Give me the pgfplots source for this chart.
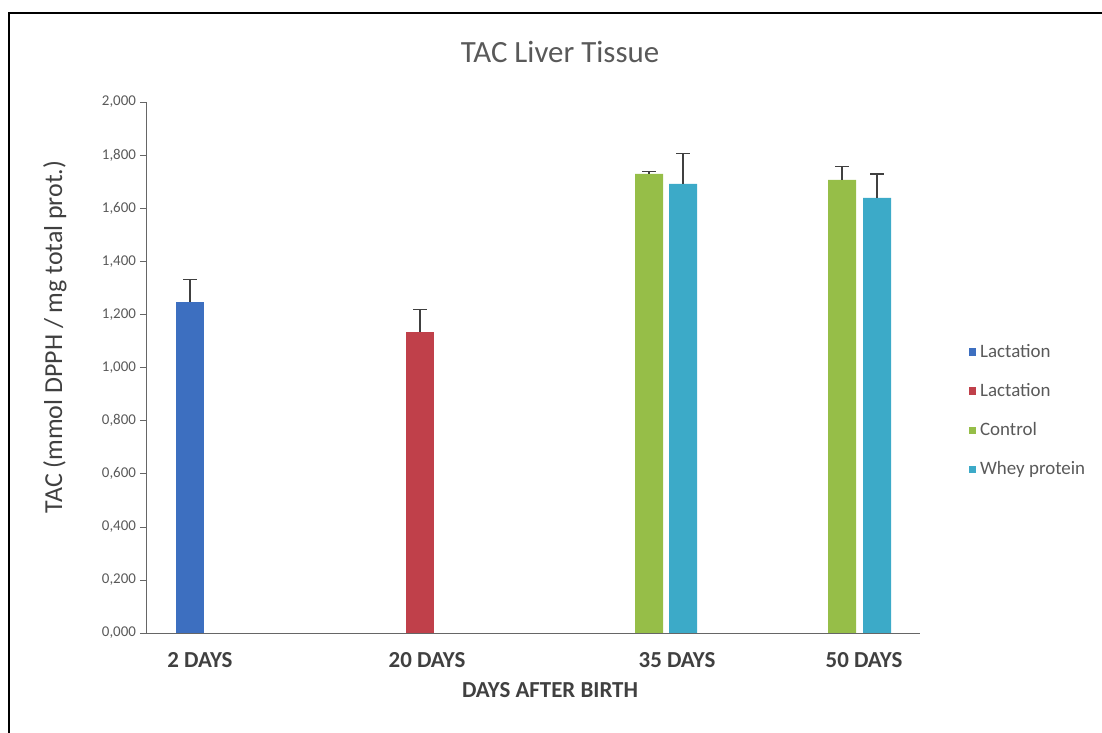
\documentclass[border=0pt]{standalone}
\usepackage{pgfplots}
\pgfplotsset{compat=1.18}
\usepackage{fontspec}
\setmainfont{Carlito}
\definecolor{cblue}{RGB}{61,111,192}
\definecolor{cred}{RGB}{192,64,74}
\definecolor{cgreen}{RGB}{150,190,72}
\definecolor{cteal}{RGB}{60,170,200}
\definecolor{txt}{RGB}{89,89,89}
\definecolor{dtxt}{RGB}{64,64,64}
\begin{document}
\begin{tikzpicture}
\path[use as bounding box] (0,0) rectangle (551bp,366.5bp);
\draw[black, line width=1.2bp] (4.5bp,0) -- (4.5bp,360bp) -- (551bp,360bp);
\begin{axis}[
  at={(73bp,50bp)}, anchor=south west,
  scale only axis, width=387bp, height=265.5bp,
  xmin=146, xmax=920, ymin=0, ymax=2,
  axis x line*=bottom, axis y line*=left,
  axis line style={gray!80!black},
  ybar, bar width=28, bar shift=0pt,
  ytick={0,0.2,0.4,0.6,0.8,1,1.2,1.4,1.6,1.8,2},
  yticklabel style={font=\fontsize{7.5}{9}\selectfont, text=txt, xshift=1.5bp,
    /pgf/number format/.cd, fixed, fixed zerofill, precision=3, use comma, 1000 sep={}, assume math mode=true},
  tick align=outside, major tick length=3bp, tick style={gray!80!black},
  x tick style={draw=none},
  xtick={200,427,677,864},
  xticklabels={2 DAYS,20 DAYS,35 DAYS,50 DAYS},
  xticklabel style={font=\bfseries\fontsize{11.5}{13}\selectfont, text=dtxt, yshift=-3bp},
  legend style={at={(1.055,0.56)}, anchor=north west, draw=none, fill=none,
    font=\fontsize{9.5}{11}\selectfont, text=txt, row sep=7.5bp,
    legend cell align=left},
  legend image code/.code={\fill[#1] (0bp,-1.8bp) rectangle (3.6bp,1.8bp);},
  error bars/y dir=plus, error bars/y explicit,
  error bars/error bar style={gray!50!black, line width=0.6pt},
  error bars/error mark options={rotate=90, mark size=3.5bp, gray!50!black, line width=0.6pt},
]
\addplot[fill=cblue, draw=none] table[x=x, y=y, y error=e] {
x y e
190 1.248 0.083
};
\addlegendentry{Lactation}
\addplot[fill=cred, draw=none] table[x=x, y=y, y error=e] {
x y e
420 1.135 0.083
};
\addlegendentry{Lactation}
\addplot[fill=cgreen, draw=none] table[x=x, y=y, y error=e] {
x y e
649 1.729 0.008
842 1.707 0.05
};
\addlegendentry{Control}
\addplot[fill=cteal, draw=none] table[x=x, y=y, y error=e] {
x y e
683 1.692 0.113
877 1.639 0.09
};
\addlegendentry{Whey protein}
\end{axis}
\node[font=\fontsize{15.5}{18}\selectfont, text=txt] at (280bp,340.5bp) {TAC Liver Tissue};
\node[font=\fontsize{13}{15}\selectfont, text=dtxt, rotate=90] at (27.5bp,198bp) {TAC (mmol DPPH / mg total prot.)};
\node[font=\bfseries\fontsize{11.5}{13}\selectfont, text=dtxt] at (275bp,21.5bp) {DAYS AFTER BIRTH};
\end{tikzpicture}
\end{document}
